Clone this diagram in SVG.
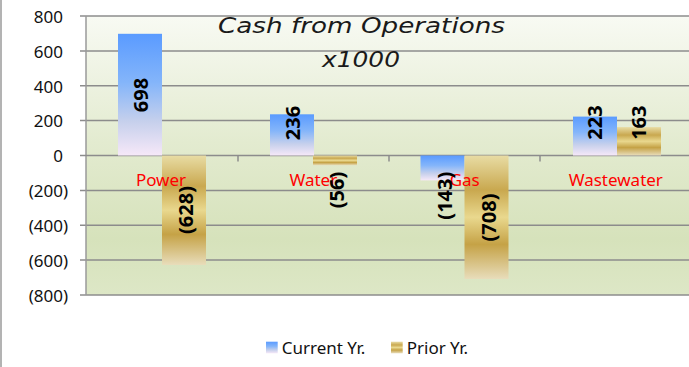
<svg xmlns="http://www.w3.org/2000/svg" width="689" height="367" viewBox="0 0 689 367">
  <style>
    .grid { stroke: #8c8c8c; stroke-width: 1.5; fill: none; }
    .axis { stroke: #9a9a9a; stroke-width: 1.5; fill: none; }
    .ylab { font-family: "Noto Sans", "Open Sans", sans-serif; font-size: 17px; fill: #111; text-anchor: end; dominant-baseline: central; }
    .cat { font-family: "Noto Sans", "Open Sans", sans-serif; font-size: 17px; fill: #ff0000; text-anchor: middle; }
    .val { font-family: "Noto Sans", "Open Sans", sans-serif; font-size: 20px; font-weight: bold; fill: #000; text-anchor: middle; dominant-baseline: central; }
    .title { font-family: "DejaVu Sans", Verdana, sans-serif; font-size: 20.5px; font-style: italic; fill: #1a1a1a; text-anchor: middle; }
    .leg { font-family: "Noto Sans", "Open Sans", sans-serif; font-size: 17px; fill: #111; }
  </style>
  <defs>
    <linearGradient id="plotBg" x1="0" y1="0" x2="0" y2="1">
      <stop offset="0" stop-color="#f8faf3"/>
      <stop offset="0.45" stop-color="#e3ebd0"/>
      <stop offset="0.8" stop-color="#d6e2bb"/>
      <stop offset="1" stop-color="#dde7c6"/>
    </linearGradient>
    <linearGradient id="blueFill" x1="0" y1="0" x2="0" y2="1">
      <stop offset="0" stop-color="#5a9bff"/>
      <stop offset="0.4" stop-color="#84b5fa"/>
      <stop offset="0.72" stop-color="#c6d0ec"/>
      <stop offset="1" stop-color="#f6e8f8"/>
    </linearGradient>
    <linearGradient id="goldFill" x1="0" y1="0" x2="0" y2="1">
      <stop offset="0" stop-color="#e8dca4"/>
      <stop offset="0.28" stop-color="#c9a84f"/>
      <stop offset="0.5" stop-color="#e9d88e"/>
      <stop offset="0.72" stop-color="#c5a246"/>
      <stop offset="1" stop-color="#e8ddbb"/>
    </linearGradient>
  </defs>

  <rect x="0" y="0" width="689" height="367" fill="#ffffff"/>
  <!-- chart frame, left edge -->
  <line x1="1" y1="0" x2="1" y2="367" stroke="#9a9a9a" stroke-width="1.5"/>

  <!-- plot area -->
  <rect x="86" y="16" width="605" height="279" fill="url(#plotBg)"/>

  <!-- gridlines with left ticks -->
  <g id="gridlines">
    <line class="grid" x1="80" y1="16" x2="689" y2="16"/>
    <line class="grid" x1="80" y1="50.9" x2="689" y2="50.9"/>
    <line class="grid" x1="80" y1="85.7" x2="689" y2="85.7"/>
    <line class="grid" x1="80" y1="120.6" x2="689" y2="120.6"/>
    <line class="grid" x1="80" y1="190.4" x2="689" y2="190.4"/>
    <line class="grid" x1="80" y1="225.3" x2="689" y2="225.3"/>
    <line class="grid" x1="80" y1="260.1" x2="689" y2="260.1"/>
    <line class="grid" x1="80" y1="295" x2="689" y2="295"/>
  </g>

  <!-- axes -->
  <g id="axes">
    <line class="axis" x1="86" y1="16" x2="86" y2="295"/>
    <line class="grid" x1="80" y1="155.5" x2="689" y2="155.5"/>
    <line class="grid" x1="238" y1="155.5" x2="238" y2="161.5"/>
    <line class="grid" x1="389" y1="155.5" x2="389" y2="161.5"/>
    <line class="grid" x1="540" y1="155.5" x2="540" y2="161.5"/>
  </g>

  <!-- value axis labels -->
  <g id="value-axis">
    <text class="ylab" x="63" y="16.3">800</text>
    <text class="ylab" x="63" y="51.2">600</text>
    <text class="ylab" x="63" y="86">400</text>
    <text class="ylab" x="63" y="120.9">200</text>
    <text class="ylab" x="63" y="155.8">0</text>
    <text class="ylab" x="68" y="190.7">(200)</text>
    <text class="ylab" x="68" y="225.6">(400)</text>
    <text class="ylab" x="68" y="260.4">(600)</text>
    <text class="ylab" x="68" y="295.3">(800)</text>
  </g>

  <!-- title -->
  <g id="title">
    <text class="title" x="361.5" y="33" textLength="287" lengthAdjust="spacingAndGlyphs">Cash from Operations</text>
    <text class="title" x="361" y="66.5" textLength="78" lengthAdjust="spacingAndGlyphs">x1000</text>
  </g>

  <!-- Current Yr. series -->
  <g id="series-current">
    <rect x="118" y="33.8" width="44" height="121.7" fill="url(#blueFill)"/>
    <rect x="270" y="114.3" width="44" height="41.2" fill="url(#blueFill)"/>
    <rect x="420.5" y="155.5" width="44" height="24.9" fill="url(#blueFill)"/>
    <rect x="573" y="116.6" width="44" height="38.9" fill="url(#blueFill)"/>
  </g>

  <!-- Prior Yr. series -->
  <g id="series-prior">
    <rect x="162" y="155.5" width="44" height="109.5" fill="url(#goldFill)"/>
    <rect x="313" y="155.5" width="44" height="9.8" fill="url(#goldFill)"/>
    <rect x="464.5" y="155.5" width="44" height="123.5" fill="url(#goldFill)"/>
    <rect x="617" y="127.1" width="44" height="28.4" fill="url(#goldFill)"/>
  </g>

  <!-- category labels -->
  <g id="categories">
    <text class="cat" x="161" y="186">Power</text>
    <text class="cat" x="313.3" y="186">Water</text>
    <text class="cat" x="464.7" y="186">Gas</text>
    <text class="cat" x="615.8" y="186">Wastewater</text>
  </g>

  <!-- data labels -->
  <g id="data-labels">
    <text class="val" transform="translate(140.5 95) rotate(-90)">698</text>
    <text class="val" transform="translate(185 210) rotate(-90)">(628)</text>
    <text class="val" transform="translate(292 123) rotate(-90)">236</text>
    <text class="val" transform="translate(336 190) rotate(-90)">(56)</text>
    <text class="val" transform="translate(444 195.7) rotate(-90)">(143)</text>
    <text class="val" transform="translate(488 217.5) rotate(-90)">(708)</text>
    <text class="val" transform="translate(594.5 122.5) rotate(-90)">223</text>
    <text class="val" transform="translate(638 122.7) rotate(-90)">163</text>
  </g>

  <!-- legend -->
  <g id="legend">
    <rect x="266" y="341.7" width="11.7" height="11.6" fill="url(#blueFill)"/>
    <text class="leg" x="281.7" y="354">Current Yr.</text>
    <rect x="391" y="341.7" width="11.7" height="11.6" fill="url(#goldFill)"/>
    <text class="leg" x="406.7" y="354">Prior Yr.</text>
  </g>
</svg>
